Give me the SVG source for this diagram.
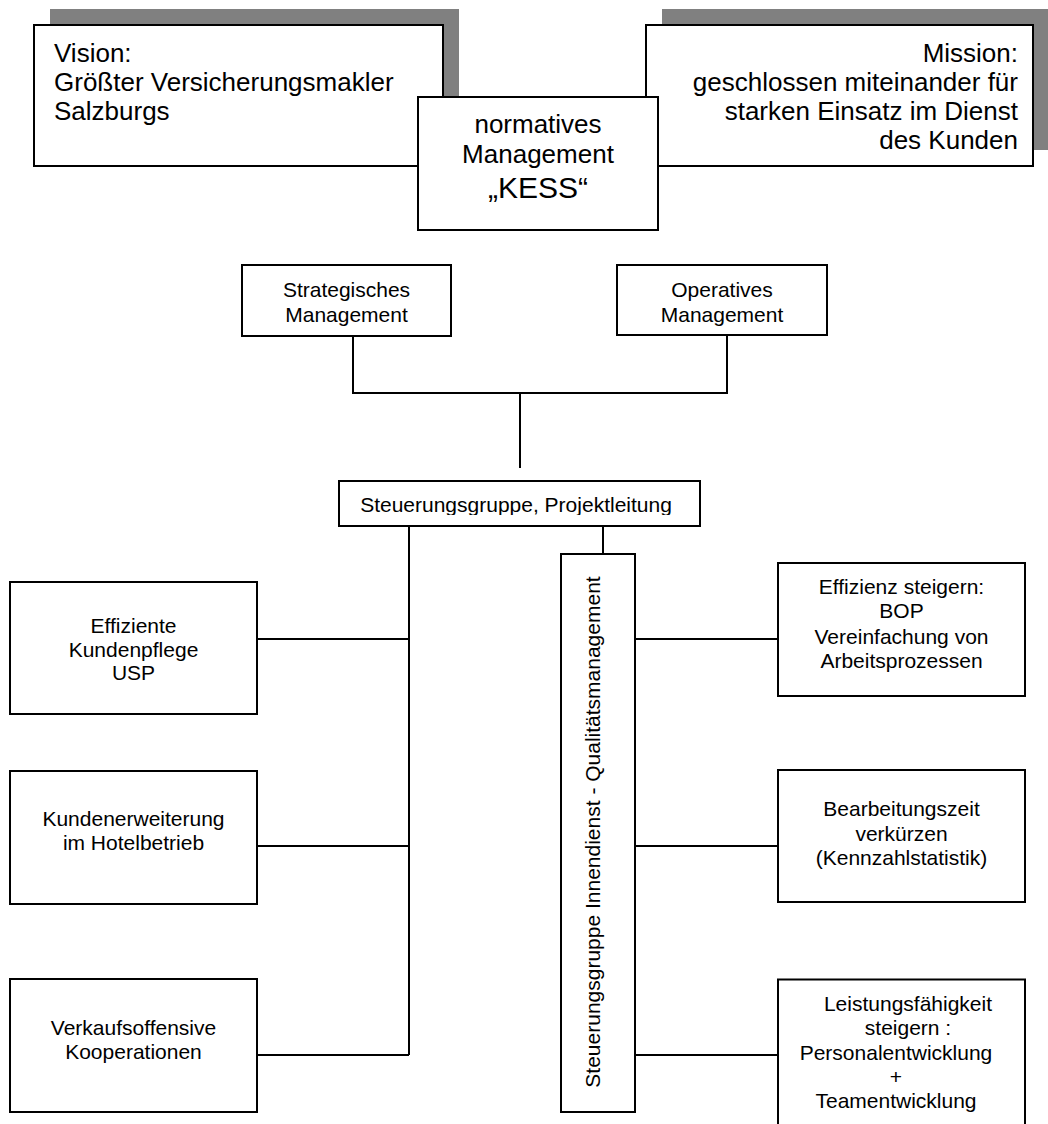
<svg xmlns="http://www.w3.org/2000/svg" width="1048" height="1124" viewBox="0 0 1048 1124">
  <style>
    .box { fill: #ffffff; stroke: #000000; stroke-width: 2; }
    .shadow { fill: #808080; stroke: none; }
    .line { fill: none; stroke: #000000; stroke-width: 2; }
    text { font-family: "Liberation Sans", Arial, sans-serif; fill: #000000; }
    .big { font-size: 26px; }
    .kess { font-size: 30px; }
    .std { font-size: 21px; text-anchor: middle; }
  </style>
  <defs>
    <clipPath id="clipSteuer">
      <rect x="340" y="482" width="359" height="33"/>
    </clipPath>
  </defs>

  <!-- Vision -->
  <g id="vision">
    <rect class="shadow" x="50" y="9" width="409" height="141"/>
    <rect class="box" x="34" y="25" width="409" height="141"/>
    <text class="big" x="54" y="62">Vision:</text>
    <text class="big" x="54" y="91">Größter Versicherungsmakler</text>
    <text class="big" x="54" y="120">Salzburgs</text>
  </g>

  <!-- Mission -->
  <g id="mission">
    <rect class="shadow" x="662" y="9" width="400" height="141"/>
    <rect class="box" x="646" y="25" width="387" height="141"/>
    <text class="big" x="1018" y="62" text-anchor="end">Mission:</text>
    <text class="big" x="1018" y="91" text-anchor="end">geschlossen miteinander für</text>
    <text class="big" x="1018" y="120" text-anchor="end">starken Einsatz im Dienst</text>
    <text class="big" x="1018" y="149" text-anchor="end">des Kunden</text>
  </g>

  <!-- Normatives Management -->
  <g id="kess">
    <rect class="box" x="418" y="97" width="240" height="133"/>
    <text class="big" x="538" y="133" text-anchor="middle">normatives</text>
    <text class="big" x="538" y="163" text-anchor="middle">Management</text>
    <text class="kess" x="538" y="198" text-anchor="middle">„KESS“</text>
  </g>

  <!-- Connectors -->
  <g id="connectors">
    <path class="line" d="M353,336 V393 H727 V335"/>
    <path class="line" d="M520,393 V468"/>
    <path class="line" d="M409,526 V1055"/>
    <path class="line" d="M603,526 V554"/>
    <path class="line" d="M257,639 H409"/>
    <path class="line" d="M257,846 H409"/>
    <path class="line" d="M257,1055 H409"/>
    <path class="line" d="M635,639 H778"/>
    <path class="line" d="M635,846 H778"/>
    <path class="line" d="M635,1055 H778"/>
  </g>

  <!-- Strategic / operative -->
  <g id="strategisch">
    <rect class="box" x="242" y="265" width="209" height="71"/>
    <text class="std" x="346.5" y="296.5">Strategisches</text>
    <text class="std" x="346.5" y="321.5">Management</text>
  </g>
  <g id="operativ">
    <rect class="box" x="617" y="265" width="210" height="70"/>
    <text class="std" x="722" y="296.5">Operatives</text>
    <text class="std" x="722" y="321.5">Management</text>
  </g>

  <!-- Steering group -->
  <g id="steuerung">
    <rect class="box" x="339" y="481" width="361" height="45"/>
    <text class="std" x="516" y="511.5" clip-path="url(#clipSteuer)">Steuerungsgruppe, Projektleitung</text>
  </g>

  <!-- Vertical quality group -->
  <g id="innendienst">
    <rect class="box" x="561" y="554" width="74" height="558"/>
    <text class="std" transform="translate(600,832) rotate(-90)">Steuerungsgruppe Innendienst - Qualitätsmanagement</text>
  </g>

  <!-- Left column -->
  <g id="kundenpflege">
    <rect class="box" x="10" y="582" width="247" height="132"/>
    <text class="std" x="133.5" y="633">Effiziente</text>
    <text class="std" x="133.5" y="657">Kundenpflege</text>
    <text class="std" x="133.5" y="680">USP</text>
  </g>
  <g id="kundenerweiterung">
    <rect class="box" x="10" y="771" width="247" height="133"/>
    <text class="std" x="133.5" y="826">Kundenerweiterung</text>
    <text class="std" x="133.5" y="850">im Hotelbetrieb</text>
  </g>
  <g id="verkaufsoffensive">
    <rect class="box" x="10" y="979" width="247" height="133"/>
    <text class="std" x="133.5" y="1035">Verkaufsoffensive</text>
    <text class="std" x="133.5" y="1059">Kooperationen</text>
  </g>

  <!-- Right column -->
  <g id="effizienz">
    <rect class="box" x="778" y="563" width="247" height="133"/>
    <text class="std" x="901.5" y="594">Effizienz steigern:</text>
    <text class="std" x="901.5" y="618">BOP</text>
    <text class="std" x="901.5" y="644">Vereinfachung von</text>
    <text class="std" x="901.5" y="668">Arbeitsprozessen</text>
  </g>
  <g id="bearbeitungszeit">
    <rect class="box" x="778" y="770" width="247" height="132"/>
    <text class="std" x="901.5" y="816">Bearbeitungszeit</text>
    <text class="std" x="901.5" y="841">verkürzen</text>
    <text class="std" x="901.5" y="865">(Kennzahlstatistik)</text>
  </g>
  <g id="leistungsfaehigkeit">
    <rect class="box" x="778" y="979.5" width="247" height="160"/>
    <text class="std" x="908" y="1011">Leistungsfähigkeit</text>
    <text class="std" x="908" y="1035">steigern :</text>
    <text class="std" x="896" y="1059.5">Personalentwicklung</text>
    <text class="std" x="896" y="1084">+</text>
    <text class="std" x="896" y="1108">Teamentwicklung</text>
  </g>
</svg>
